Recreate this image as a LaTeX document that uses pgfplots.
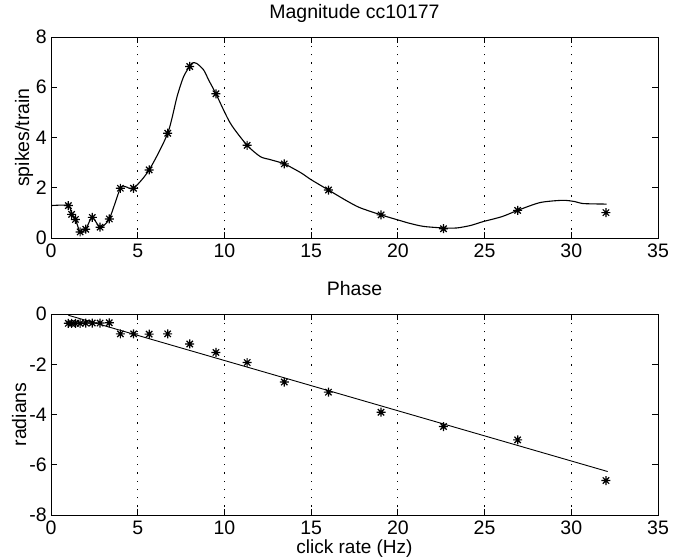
\documentclass[border=0pt]{standalone}
\usepackage{fontspec}
\setmainfont{Liberation Sans}
\usepackage{pgfplots}
\pgfplotsset{compat=1.18}
\pgfdeclareplotmark{mstar}{%
  \pgfpathmoveto{\pgfqpoint{-\pgfplotmarksize}{0pt}}%
  \pgfpathlineto{\pgfqpoint{\pgfplotmarksize}{0pt}}%
  \pgfpathmoveto{\pgfqpoint{0pt}{-\pgfplotmarksize}}%
  \pgfpathlineto{\pgfqpoint{0pt}{\pgfplotmarksize}}%
  \pgfpathmoveto{\pgfqpoint{-0.707\pgfplotmarksize}{-0.707\pgfplotmarksize}}%
  \pgfpathlineto{\pgfqpoint{0.707\pgfplotmarksize}{0.707\pgfplotmarksize}}%
  \pgfpathmoveto{\pgfqpoint{-0.707\pgfplotmarksize}{0.707\pgfplotmarksize}}%
  \pgfpathlineto{\pgfqpoint{0.707\pgfplotmarksize}{-0.707\pgfplotmarksize}}%
  \pgfusepathqstroke}
\pgfplotsset{
  mstyle/.style={
    width=607pt, height=201pt, scale only axis,
    xmin=0, xmax=35, xtick={0,5,...,35},
    xmajorgrids,
    grid style={black, line width=0.8pt, dash pattern=on 1.3pt off 7pt},
    tick align=inside, major tick length=6pt,
    every tick/.style={black, line width=0.8pt},
    axis line style={black, line width=0.9pt},
    font=\fontsize{19.5}{21}\selectfont,
    /pgf/number format/assume math mode=true,
    xticklabel style={inner sep=0pt, yshift=-6pt},
    yticklabel style={inner sep=0pt, xshift=-4pt},
    title style={at={(axis description cs:0.5,1)}, anchor=base, yshift=13pt, inner sep=0pt},
  }
}
\begin{document}
\begin{tikzpicture}[x=1pt,y=1pt]
\useasboundingbox (0,0) rectangle (683,558);
\begin{axis}[mstyle, at={(51pt,320pt)}, anchor=south west,
  ymin=0, ymax=8, ytick={0,2,4,6,8},
  title={Magnitude cc10177},
  ylabel={spikes/train},
  ylabel style={at={(axis description cs:-0.036,0.5)}, anchor=base, inner sep=0pt},
]
\addplot[black, line width=1.1pt, smooth, tension=0.45] coordinates {
(0,1.29)(1.0,1.29)(1.19,0.94)(1.41,0.74)(1.68,0.24)(2.0,0.35)(2.38,0.82)(2.83,0.43)(3.36,0.76)
(4.0,1.98)(4.3,2.04)(4.76,1.98)(5.66,2.71)(6.73,4.17)(7.27,5.63)(7.65,6.43)(8.0,6.83)(8.15,6.97)
(8.4,6.95)(8.8,6.69)(9.09,6.29)(9.51,5.74)(10.34,4.57)(11.31,3.69)(12.07,3.24)(12.64,3.12)
(13.45,2.95)(14.4,2.60)(15.0,2.32)(16.0,1.91)(17.0,1.50)(17.8,1.21)(19.03,0.92)(20.0,0.72)
(20.7,0.58)(21.5,0.46)(22.63,0.40)(23.4,0.40)(24.2,0.50)(24.9,0.65)(26.0,0.85)(26.91,1.10)
(28.2,1.41)(29.5,1.50)(30.2,1.45)(30.7,1.37)(32.04,1.35)
};
\addplot[black, only marks, mark=mstar, mark size=4.5pt, line width=1.2pt] coordinates {
(1.0,1.29)(1.19,0.94)(1.41,0.74)(1.68,0.24)(2.0,0.35)(2.38,0.82)(2.83,0.43)(3.36,0.76)
(4.0,1.98)(4.76,1.98)(5.66,2.71)(6.73,4.17)(8.0,6.83)(9.51,5.74)(11.31,3.69)(13.45,2.95)
(16.0,1.91)(19.03,0.92)(22.63,0.37)(26.91,1.10)(32.0,1.01)
};
\end{axis}
\begin{axis}[mstyle, at={(51pt,43pt)}, anchor=south west,
  ymin=-8, ymax=0, ytick={-8,-6,-4,-2,0},
  title={Phase},
  ylabel={radians},
  ylabel style={at={(axis description cs:-0.041,0.5)}, anchor=base, inner sep=0pt},
  xlabel={click rate (Hz)},
  xlabel style={at={(axis description cs:0.5,0)}, anchor=base, yshift=-38pt, inner sep=0pt, font=\fontsize{19}{20}\selectfont},
]
\addplot[black, line width=0.9pt] coordinates {(1.0,-0.05)(32.1,-6.27)};
\addplot[black, only marks, mark=mstar, mark size=4.5pt, line width=1.2pt] coordinates {
(1.0,-0.37)(1.19,-0.37)(1.41,-0.37)(1.68,-0.37)(2.0,-0.36)(2.38,-0.36)(2.83,-0.36)(3.36,-0.35)
(4.0,-0.79)(4.76,-0.79)(5.66,-0.80)(6.73,-0.79)(8.0,-1.19)(9.51,-1.53)(11.31,-1.93)(13.45,-2.71)
(16.0,-3.11)(19.03,-3.91)(22.63,-4.48)(26.91,-5.01)(32.0,-6.63)
};
\end{axis}
\end{tikzpicture}
\end{document}
